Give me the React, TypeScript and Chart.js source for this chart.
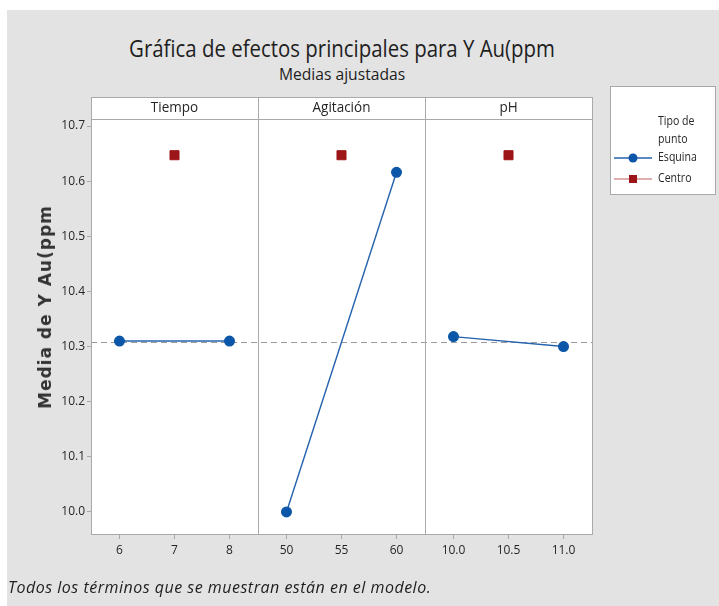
import React, { useEffect, useRef } from "react";
import { Chart, registerables } from "chart.js";
Chart.register(...registerables);

// ---------- data ----------
const panelNames = ["Tiempo", "Agitación", "pH"];

const tiempoLevels = [6, 8];
const tiempoMeans = [10.31, 10.31];
const tiempoCenter = 7;

const agitacionLevels = [50, 60];
const agitacionMeans = [10.0, 10.616];
const agitacionCenter = 55;

const phLevels = [10.0, 11.0];
const phMeans = [10.318, 10.3];
const phCenter = 10.5;

const centerMean = 10.647;
const overallMean = 10.308;

const tiempoTicks = [6, 7, 8];
const tiempoTickLabels = ["6", "7", "8"];
const agitacionTicks = [50, 55, 60];
const agitacionTickLabels = ["50", "55", "60"];
const phTicks = [10.0, 10.5, 11.0];
const phTickLabels = ["10.0", "10.5", "11.0"];

const yTicks = [10.0, 10.1, 10.2, 10.3, 10.4, 10.5, 10.6, 10.7];
const yTickLabels = ["10.0", "10.1", "10.2", "10.3", "10.4", "10.5", "10.6", "10.7"];

const legendTitle = ["Tipo de", "punto"];
const legendLabels = ["Esquina", "Centro"];

const titleText = "Gráfica de efectos principales para Y Au(ppm";
const subtitleText = "Medias ajustadas";
const yTitle = "Media de Y Au(ppm";
const footerText = "Todos los términos que se muestran están en el modelo.";

// ---------- styles ----------
const BLUE = "#0b56a8";
const LINE_BLUE = "#2462ad";
const RED = "#9c1518";
const BORDER = "#a9a9a9";
const TEXT = "#262626";
const TICK_FONT = "Open Sans";

function xScale(ticks: number[], labels: string[], step: number) {
  const pad = step * 0.518;
  return {
    type: "linear" as const,
    position: "bottom" as const,
    stack: "panels",
    stackWeight: 1,
    min: ticks[0] - pad,
    max: ticks[ticks.length - 1] + pad,
    afterBuildTicks: (s: any) => {
      s.ticks = ticks.map((v) => ({ value: v }));
    },
    afterFit: (s: any) => {
      s.height = 30;
    },
    ticks: {
      autoSkip: false,
      maxRotation: 0,
      padding: 4,
      color: TEXT,
      font: { family: TICK_FONT, size: 12 },
      callback: (_v: any, i: number) => labels[i],
    },
    grid: { drawOnChartArea: false, drawTicks: true, tickLength: 5, color: BORDER },
    border: { display: false },
  };
}

function condensedText(ctx: any, text: string, x: number, y: number, sx: number) {
  ctx.save();
  ctx.translate(x, y);
  ctx.scale(sx, 1);
  ctx.fillText(text, 0, 0);
  ctx.restore();
}

const panelPlugin = {
  id: "panelPlugin",
  beforeDraw(chart: any) {
    const { ctx, chartArea } = chart;
    const headerTop = chartArea.top - 22;
    ctx.save();
    ctx.fillStyle = "#ffffff";
    ctx.fillRect(chartArea.left, headerTop, chartArea.right - chartArea.left, chartArea.bottom - headerTop);
    ctx.restore();
  },
  beforeDatasetsDraw(chart: any) {
    const { ctx, chartArea, scales } = chart;
    const y = scales.y.getPixelForValue(overallMean);
    ctx.save();
    ctx.strokeStyle = "#9a9a9a";
    ctx.lineWidth = 1;
    ctx.setLineDash([6, 4]);
    ctx.beginPath();
    ctx.moveTo(chartArea.left, Math.round(y) + 0.5);
    ctx.lineTo(chartArea.right, Math.round(y) + 0.5);
    ctx.stroke();
    ctx.restore();
  },
  afterDraw(chart: any) {
    const { ctx, chartArea, scales } = chart;
    const headerTop = chartArea.top - 22;
    ctx.save();
    ctx.strokeStyle = BORDER;
    ctx.lineWidth = 1;
    ["x1", "x2", "x3"].forEach((id, i) => {
      const s = scales[id];
      const l = Math.round(s.left) + 0.5;
      const r = Math.round(s.right) + 0.5;
      ctx.strokeRect(l, headerTop + 0.5, r - l, Math.round(chartArea.bottom) - headerTop);
      ctx.beginPath();
      ctx.moveTo(l, Math.round(chartArea.top) + 0.5);
      ctx.lineTo(r, Math.round(chartArea.top) + 0.5);
      ctx.stroke();
      ctx.fillStyle = TEXT;
      ctx.font = `15px ${TICK_FONT}`;
      ctx.textAlign = "center";
      ctx.textBaseline = "middle";
      condensedText(ctx, panelNames[i], (s.left + s.right) / 2, headerTop + 11, 0.9);
    });

    // legend
    const lx = 610, ly = 86, lw = 106, lh = 109;
    ctx.fillStyle = "#ffffff";
    ctx.fillRect(lx, ly, lw, lh);
    ctx.strokeStyle = BORDER;
    ctx.strokeRect(lx + 0.5, ly + 0.5, lw - 1, lh - 1);
    ctx.fillStyle = TEXT;
    ctx.font = `12px ${TICK_FONT}`;
    ctx.textAlign = "left";
    ctx.textBaseline = "middle";
    condensedText(ctx, legendTitle[0], 658, 122, 0.88);
    condensedText(ctx, legendTitle[1], 658, 140, 0.88);
    condensedText(ctx, legendLabels[0], 658, 158, 0.88);
    condensedText(ctx, legendLabels[1], 658, 179, 0.88);
    // Esquina sample
    ctx.strokeStyle = LINE_BLUE;
    ctx.lineWidth = 1.5;
    ctx.beginPath();
    ctx.moveTo(614, 158);
    ctx.lineTo(652, 158);
    ctx.stroke();
    ctx.fillStyle = BLUE;
    ctx.beginPath();
    ctx.arc(633, 158, 4.5, 0, Math.PI * 2);
    ctx.fill();
    // Centro sample
    ctx.strokeStyle = "rgba(156,21,24,0.45)";
    ctx.beginPath();
    ctx.moveTo(614, 179);
    ctx.lineTo(652, 179);
    ctx.stroke();
    ctx.fillStyle = RED;
    ctx.fillRect(629, 175, 8, 8);
    ctx.restore();
  },
};

export default function App() {
  const ref = useRef<HTMLCanvasElement | null>(null);

  useEffect(() => {
    document.body.style.margin = "0";
    const canvas = ref.current;
    if (!canvas) return;
    const cornerPoint = {
      borderColor: LINE_BLUE,
      backgroundColor: BLUE,
      pointBackgroundColor: BLUE,
      pointBorderColor: BLUE,
      pointRadius: 4.8,
      borderWidth: 1.4,
      showLine: true,
    };
    const centerPoint = {
      borderColor: RED,
      backgroundColor: RED,
      pointBackgroundColor: RED,
      pointBorderColor: RED,
      pointStyle: "rect" as const,
      pointRadius: 6.4,
      showLine: false,
    };
    const chart = new Chart(canvas, {
      type: "scatter",
      data: {
        datasets: [
          { ...cornerPoint, label: "Esquina", xAxisID: "x1", data: tiempoLevels.map((x, i) => ({ x, y: tiempoMeans[i] })) },
          { ...cornerPoint, label: "Esquina", xAxisID: "x2", data: agitacionLevels.map((x, i) => ({ x, y: agitacionMeans[i] })) },
          { ...cornerPoint, label: "Esquina", xAxisID: "x3", data: phLevels.map((x, i) => ({ x, y: phMeans[i] })) },
          { ...centerPoint, label: "Centro", xAxisID: "x1", data: [{ x: tiempoCenter, y: centerMean }] },
          { ...centerPoint, label: "Centro", xAxisID: "x2", data: [{ x: agitacionCenter, y: centerMean }] },
          { ...centerPoint, label: "Centro", xAxisID: "x3", data: [{ x: phCenter, y: centerMean }] },
        ],
      },
      options: {
        animation: false,
        responsive: false,
        devicePixelRatio: 1,
        layout: { padding: { left: 0, top: 119, right: 127, bottom: 42 } },
        plugins: { legend: { display: false }, tooltip: { enabled: false } },
        scales: {
          x1: xScale(tiempoTicks, tiempoTickLabels, 1),
          x2: xScale(agitacionTicks, agitacionTickLabels, 5),
          x3: xScale(phTicks, phTickLabels, 0.5),
          y: {
            type: "linear",
            position: "left",
            min: 9.96,
            max: 10.7127,
            afterBuildTicks: (s: any) => {
              s.ticks = yTicks.map((v) => ({ value: v }));
            },
            afterFit: (s: any) => {
              s.width = 91;
            },
            ticks: {
              padding: 2,
              color: TEXT,
              font: { family: TICK_FONT, size: 12 },
              callback: (_v: any, i: number) => yTickLabels[i],
            },
            grid: { drawOnChartArea: false, drawTicks: true, tickLength: 4, color: BORDER },
            border: { display: false },
          },
        },
      },
      plugins: [panelPlugin],
    } as any);
    return () => chart.destroy();
  }, []);

  return (
    <div style={{ position: "relative", width: 719, height: 606, overflow: "hidden", background: "#ffffff" }}>
      <div style={{ position: "absolute", left: 7, top: 10, right: 0, bottom: 0, background: "#e3e3e3" }} />
      <div
        style={{
          position: "absolute", left: 0, top: 33, width: 684, textAlign: "center",
          fontFamily: "'Open Sans'", fontSize: 24, lineHeight: "30px", color: "#1e1e1e",
          transform: "scaleX(0.85)", transformOrigin: "342px 0",
        }}
      >
        {titleText}
      </div>
      <div
        style={{
          position: "absolute", left: 0, top: 63, width: 684, textAlign: "center",
          fontFamily: "'Open Sans'", fontSize: 17, lineHeight: "22px", color: "#1e1e1e",
          transform: "scaleX(0.92)", transformOrigin: "342px 0",
        }}
      >
        {subtitleText}
      </div>
      <canvas ref={ref} width={719} height={606} style={{ position: "absolute", left: 0, top: 0, width: 719, height: 606 }} />
      <div
        style={{
          position: "absolute", left: 45, top: 307, transform: "translate(-50%, -50%) rotate(-90deg)",
          whiteSpace: "nowrap", fontFamily: "'DejaVu Sans'", fontWeight: "bold", fontSize: 17,
          letterSpacing: "1px", lineHeight: "20px", color: "#333333",
        }}
      >
        {yTitle}
      </div>
      <div
        style={{
          position: "absolute", left: 8, top: 577, whiteSpace: "nowrap", fontFamily: "'Open Sans'",
          fontStyle: "italic", fontSize: 16, lineHeight: "20px", letterSpacing: "0.5px", color: "#1e1e1e",
        }}
      >
        {footerText}
      </div>
    </div>
  );
}
